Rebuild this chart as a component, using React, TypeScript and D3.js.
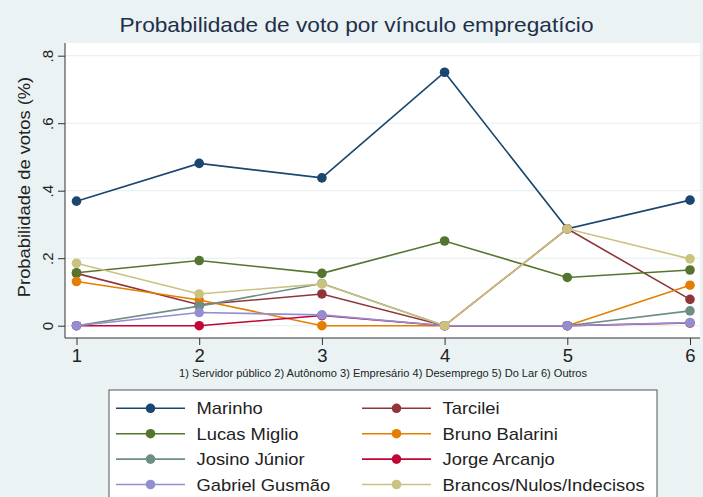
import React, { useEffect, useRef } from "react";
import * as d3 from "d3";

// categories on the x axis (1..6)
const categories = [1, 2, 3, 4, 5, 6];
const xCaption =
   "1) Servidor público 2) Autônomo  3) Empresário 4) Desemprego 5) Do Lar 6) Outros";

const yTicks = [0, 0.2, 0.4, 0.6, 0.8];
const yTickLabels = ["0", ".2", ".4", ".6", ".8"];

// series values
const marinho = [0.369, 0.481, 0.438, 0.751, 0.287, 0.372];
const tarcilei = [0.155, 0.062, 0.094, 0, 0.287, 0.078];
const lucasMiglio = [0.157, 0.193, 0.155, 0.251, 0.143, 0.165];
const brunoBalarini = [0.131, 0.076, 0, 0, 0, 0.12];
const josinoJunior = [0, 0.058, 0.125, 0, 0, 0.044];
const jorgeArcanjo = [0, 0, 0.03, 0, 0, 0.008];
const gabrielGusmao = [0, 0.039, 0.032, 0, 0, 0.009];
const brancos = [0.185, 0.094, 0.124, 0, 0.287, 0.198];

const seriesNames = [
   "Marinho",
   "Tarcilei",
   "Lucas Miglio",
   "Bruno Balarini",
   "Josino Júnior",
   "Jorge Arcanjo",
   "Gabriel Gusmão",
   "Brancos/Nulos/Indecisos"
];
const seriesValues = [
   marinho,
   tarcilei,
   lucasMiglio,
   brunoBalarini,
   josinoJunior,
   jorgeArcanjo,
   gabrielGusmao,
   brancos
];
// stata s2color palette
const colors = [
   "#1a476f",
   "#90353b",
   "#55752f",
   "#e37e00",
   "#6e8e84",
   "#c10534",
   "#938dd2",
   "#cac27e"
];

const W = 703;
const H = 497;
const FONT = "'Liberation Sans', Arial, sans-serif";
// the original's text is a bit wider than Arial
const STRETCH = 1.08;

const widen = sel =>
   sel.each(function () {
      const len = this.getComputedTextLength();
      d3.select(this)
         .attr("textLength", len * STRETCH)
         .attr("lengthAdjust", "spacingAndGlyphs");
   });

const App = () => {
   const svgRef = useRef<SVGSVGElement>(null);

   useEffect(() => {
      const svg = d3.select(svgRef.current);
      svg.selectAll("*").remove();

      const plot = { left: 65, right: 700, top: 43, bottom: 338 };

      // ---------------------- scale
      const x = d3.scaleLinear().domain([1, 6]).range([76.5, 690]);
      const y = d3.scaleLinear().domain([0, 0.8]).range([325.7, 55.7]);

      // background
      svg.append("rect")
         .attr("width", W)
         .attr("height", H)
         .attr("fill", "#eaf2f3");
      svg.append("rect")
         .attr("x", plot.left)
         .attr("y", plot.top)
         .attr("width", plot.right - plot.left)
         .attr("height", plot.bottom - plot.top)
         .attr("fill", "#ffffff");

      // title
      svg.append("text")
         .attr("x", 356.5)
         .attr("y", 31.5)
         .attr("text-anchor", "middle")
         .attr("font-family", FONT)
         .attr("font-size", 21)
         .attr("fill", "#1f2f4a")
         .text("Probabilidade de voto por vínculo empregatício")
         .call(widen);

      // gridlines
      svg.append("g")
         .selectAll("line")
         .data(yTicks)
         .join("line")
         .attr("x1", plot.left)
         .attr("x2", plot.right)
         .attr("y1", d => y(d))
         .attr("y2", d => y(d))
         .attr("stroke", "#e4eef0")
         .attr("stroke-width", 1);

      // ----------------------- axes
      const yAxis = svg
         .append("g")
         .attr("transform", `translate(${plot.left},0)`)
         .call(
            d3
               .axisLeft(y)
               .tickValues(yTicks)
               .tickFormat((d, i) => yTickLabels[i])
               .tickSize(7)
         );
      yAxis.select(".domain").attr("d", `M0,${plot.top}V${plot.bottom}`);
      yAxis.selectAll(".tick text")
         .attr("font-family", FONT)
         .attr("font-size", 15)
         .attr("fill", "#222")
         .attr("text-anchor", "middle")
         .attr("transform", "rotate(-90)")
         .attr("x", 0)
         .attr("y", -17.5)
         .attr("dy", "0.35em");

      const xAxis = svg
         .append("g")
         .attr("transform", `translate(0,${plot.bottom})`)
         .call(
            d3.axisBottom(x).tickValues(categories).tickFormat(d3.format("d")).tickSize(7)
         );
      xAxis.select(".domain").attr("d", `M${plot.left},0H${plot.right}`);
      xAxis.selectAll(".tick text")
         .attr("font-family", FONT)
         .attr("font-size", 18.5)
         .attr("fill", "#222")
         .attr("y", 24)
         .attr("dy", 0);

      svg.selectAll(".domain, .tick line").attr("stroke", "#333");

      // axis titles
      svg.append("text")
         .attr("transform", `translate(30,${(plot.top + plot.bottom) / 2 - 3.5}) rotate(-90)`)
         .attr("text-anchor", "middle")
         .attr("font-family", FONT)
         .attr("font-size", 17)
         .attr("fill", "#222")
         .text("Probabilidade de votos (%)")
         .call(widen);

      svg.append("text")
         .attr("x", 383)
         .attr("y", 377)
         .attr("text-anchor", "middle")
         .attr("font-family", "'Liberation Sans Narrow', " + FONT)
         .attr("font-size", 10.5)
         .attr("fill", "#222")
         .attr("textLength", 408)
         .attr("lengthAdjust", "spacingAndGlyphs")
         .text(xCaption);

      // -------------------- draw lines
      const line = d3
         .line<number>()
         .x((d, i) => x(categories[i]))
         .y(d => y(d));

      const groups = svg
         .append("g")
         .selectAll("g.series")
         .data(seriesValues)
         .join("g")
         .attr("class", "series");

      groups.append("path")
         .attr("d", d => line(d))
         .attr("fill", "none")
         .attr("stroke", (d, i) => colors[i])
         .attr("stroke-width", 1.6);

      groups.selectAll("circle")
         .data((d, i) => d.map(v => ({ v, c: colors[i] })))
         .join("circle")
         .attr("cx", (d, i) => x(categories[i]))
         .attr("cy", d => y(d.v))
         .attr("r", 4.8)
         .attr("fill", d => d.c);

      // -------------------- legend
      const legend = svg.append("g");
      legend.append("rect")
         .attr("x", 109)
         .attr("y", 390)
         .attr("width", 548)
         .attr("height", 120)
         .attr("fill", "#fff")
         .attr("stroke", "#555")
         .attr("stroke-width", 1);

      const cols = [116, 362];
      const items = legend
         .selectAll("g.item")
         .data(seriesNames)
         .join("g")
         .attr("class", "item")
         .attr(
            "transform",
            (d, i) => `translate(${cols[i % 2]},${408.3 + Math.floor(i / 2) * 25.4})`
         );
      items.append("line")
         .attr("x1", 0)
         .attr("x2", 69)
         .attr("stroke", (d, i) => colors[i])
         .attr("stroke-width", 1.6);
      items.append("circle")
         .attr("cx", 34.5)
         .attr("r", 4.8)
         .attr("fill", (d, i) => colors[i]);
      items.append("text")
         .attr("x", 80.5)
         .attr("dy", "0.36em")
         .attr("font-family", FONT)
         .attr("font-size", 17)
         .attr("fill", "#222")
         .text(d => d)
         .call(widen);
   }, []);

   return (
      <svg
         ref={svgRef}
         width={W}
         height={H}
         style={{ position: "absolute", left: 0, top: 0 }}
      />
   );
};

export default App;
